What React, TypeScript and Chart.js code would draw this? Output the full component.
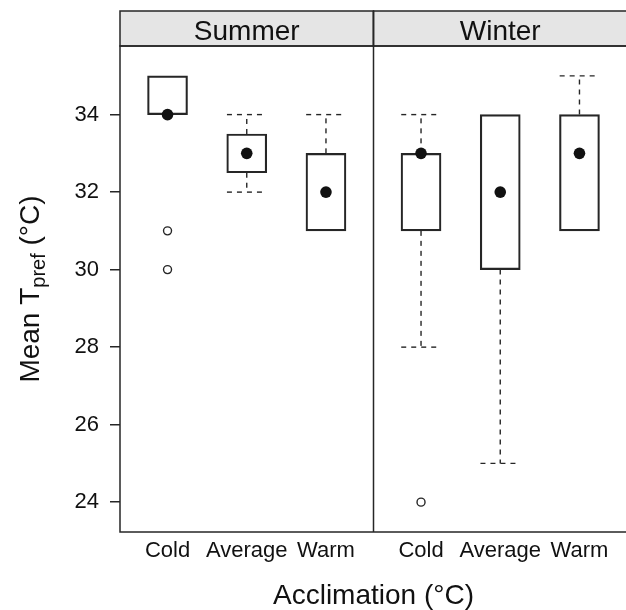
import React, { useEffect, useRef } from 'react';
import { Chart, registerables } from 'chart.js';

Chart.register(...registerables);

// ---- data ----
const panels = ['Summer', 'Winter'];
const categories = ['Cold', 'Average', 'Warm'];
const yTicks = [24, 26, 28, 30, 32, 34];
// [panel][category]
const boxLow = [[34, 32.5, 31], [31, 30, 31]];
const boxHigh = [[35, 33.5, 33], [33, 34, 34]];
const medians = [[34, 33, 32], [33, 32, 33]];
const whiskerLow = [[34, 32, 31], [28, 25, 31]];
const whiskerHigh = [[35, 34, 34], [34, 34, 35]];
const outliers = [[[31, 30], [], []], [[24], [], []]];

const Y_MIN = 23.23;
const Y_MAX = 35.77;
const PANEL_SPAN = 3.2; // lattice factor range 0.4 .. 3.6
const CAP_HALF = 0.25;
const FONT = "'Liberation Sans', Arial, Helvetica, sans-serif";
const INK = '#262626';

const xPos = (p: number, c: number) => p * PANEL_SPAN + c + 1;

function buildDatasets() {
  const ds: any[] = [];
  const boxes: any[] = [];
  const meds: any[] = [];
  const outs: any[] = [];
  panels.forEach((_, p) => {
    categories.forEach((_, c) => {
      const x = xPos(p, c);
      boxes.push({ x, y: [boxLow[p][c], boxHigh[p][c]] });
      meds.push({ x, y: medians[p][c] });
      outliers[p][c].forEach((v) => outs.push({ x, y: v }));
      const segs: [number, number][] = [];
      if (whiskerHigh[p][c] > boxHigh[p][c]) segs.push([boxHigh[p][c], whiskerHigh[p][c]]);
      if (whiskerLow[p][c] < boxLow[p][c]) segs.push([boxLow[p][c], whiskerLow[p][c]]);
      segs.forEach(([from, to]) => {
        const common = {
          type: 'line',
          borderColor: INK,
          borderWidth: 1.4,
          borderDash: [5, 5],
          pointRadius: 0,
          fill: false,
          tension: 0,
          order: 2,
        };
        ds.push({ ...common, data: [{ x, y: from }, { x, y: to }] });
        ds.push({ ...common, data: [{ x: x - CAP_HALF, y: to }, { x: x + CAP_HALF, y: to }] });
      });
    });
  });
  ds.push({
    type: 'bar',
    data: boxes,
    backgroundColor: 'rgba(255,255,255,0)',
    borderColor: INK,
    borderWidth: 1.5,
    borderSkipped: false,
    barThickness: 40,
    order: 3,
  });
  ds.push({
    type: 'scatter',
    data: meds,
    pointRadius: 5.8,
    pointBackgroundColor: '#111',
    pointBorderWidth: 0,
    order: 0,
  });
  ds.push({
    type: 'scatter',
    data: outs,
    pointRadius: 4,
    pointBackgroundColor: '#fff',
    pointBorderColor: INK,
    pointBorderWidth: 1.4,
    order: 1,
  });
  return ds;
}

const framePlugin = {
  id: 'latticeFrame',
  afterDraw(chart: any) {
    const { ctx, chartArea } = chart;
    const xs = chart.scales.x;
    const { left, right, top, bottom } = chartArea;
    const stripTop = 11;
    ctx.save();
    // strips
    panels.forEach((name, p) => {
      const l = xs.getPixelForValue(0.4 + p * PANEL_SPAN);
      const r = xs.getPixelForValue(0.4 + (p + 1) * PANEL_SPAN);
      ctx.fillStyle = '#e5e5e5';
      ctx.fillRect(l, stripTop, r - l, top - stripTop);
      ctx.strokeStyle = INK;
      ctx.lineWidth = 1.5;
      ctx.strokeRect(l, stripTop, r - l, top - stripTop);
      ctx.fillStyle = '#111';
      ctx.font = `28px ${FONT}`;
      ctx.textAlign = 'center';
      ctx.textBaseline = 'alphabetic';
      ctx.fillText(name, (l + r) / 2, 40);
    });
    // panel frames
    ctx.strokeStyle = INK;
    ctx.lineWidth = 1.5;
    ctx.strokeRect(left, top, right - left, bottom - top);
    const div = xs.getPixelForValue(0.4 + PANEL_SPAN);
    ctx.beginPath();
    ctx.moveTo(div, stripTop);
    ctx.lineTo(div, bottom);
    ctx.stroke();
    // y title with subscript
    const cy = (top + bottom) / 2;
    const big = `28px ${FONT}`;
    const small = `20px ${FONT}`;
    const parts: [string, string, number][] = [
      ['Mean T', big, 0],
      ['pref', small, 6],
      [' (°C)', big, 0],
    ];
    let total = 0;
    parts.forEach(([t, f]) => {
      ctx.font = f;
      total += ctx.measureText(t).width;
    });
    ctx.translate(39, cy);
    ctx.rotate(-Math.PI / 2);
    ctx.fillStyle = '#111';
    ctx.textAlign = 'left';
    ctx.textBaseline = 'alphabetic';
    let xx = -total / 2;
    parts.forEach(([t, f, dy]) => {
      ctx.font = f;
      ctx.fillText(t, xx, dy);
      xx += ctx.measureText(t).width;
    });
    ctx.restore();
  },
};

export default function App() {
  const ref = useRef<HTMLCanvasElement>(null);
  useEffect(() => {
    if (!ref.current) return;
    const xTickValues: number[] = [];
    panels.forEach((_, p) => categories.forEach((_, c) => xTickValues.push(xPos(p, c))));
    const chart = new Chart(ref.current, {
      type: 'bar',
      data: { datasets: buildDatasets() as any },
      options: {
        responsive: false,
        animation: false,
        devicePixelRatio: 1,
        events: [],
        layout: { padding: { top: 46, right: 13, left: 0, bottom: 0 } },
        plugins: { legend: { display: false }, tooltip: { enabled: false } },
        scales: {
          x: {
            type: 'linear',
            min: 0.4,
            max: 0.4 + 2 * PANEL_SPAN,
            offset: false,
            grid: { display: false, drawTicks: false, offset: false },
            border: { display: false },
            afterBuildTicks: (s: any) => {
              s.ticks = xTickValues.map((v) => ({ value: v }));
            },
            afterFit: (s: any) => {
              s.height = 78;
            },
            ticks: {
              autoSkip: false,
              maxRotation: 0,
              padding: 6,
              color: '#111',
              font: { family: FONT, size: 22 },
              callback: (_v: any, i: number) => categories[i % categories.length],
            },
            title: {
              display: true,
              text: 'Acclimation (°C)',
              color: '#111',
              font: { family: FONT, size: 28 },
              padding: { top: 0, bottom: -3 },
            },
          },
          y: {
            type: 'linear',
            min: Y_MIN,
            max: Y_MAX,
            grid: {
              drawOnChartArea: false,
              drawTicks: true,
              tickLength: 10,
              color: INK,
              lineWidth: 1.5,
            },
            border: { display: false },
            afterBuildTicks: (s: any) => {
              s.ticks = yTicks.map((v) => ({ value: v }));
            },
            afterFit: (s: any) => {
              s.width = 120;
            },
            ticks: {
              padding: 11,
              color: '#111',
              font: { family: FONT, size: 22 },
              callback: (v: any) => String(v),
            },
          },
        },
      } as any,
      plugins: [framePlugin],
    });
    return () => chart.destroy();
  }, []);
  return (
    <div
      style={{
        position: 'fixed',
        left: 0,
        top: 0,
        width: 626,
        height: 610,
        overflow: 'hidden',
        background: '#fff',
      }}
    >
      <canvas ref={ref} width={640} height={610} style={{ display: 'block', width: 640, height: 610 }} />
    </div>
  );
}
